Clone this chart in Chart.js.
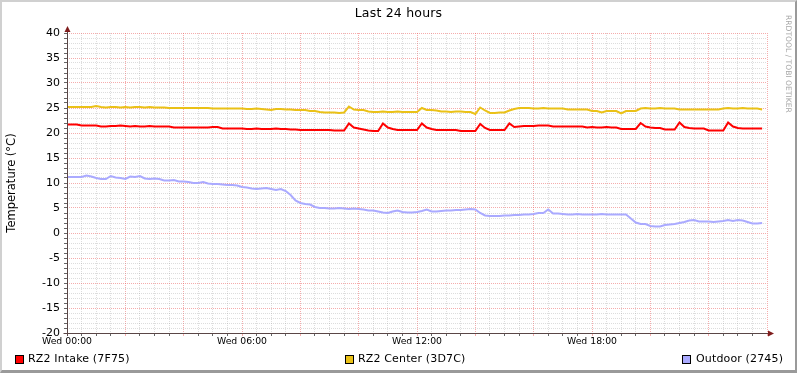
<!DOCTYPE html>
<html>
<head>
<meta charset="utf-8">
<script src="https://cdn.jsdelivr.net/npm/chart.js@4.4.0/dist/chart.umd.js"></script>
<style>
  body { margin: 0; background: #fff; font-family: 'DejaVu Sans', sans-serif; }
  #wrap { position: relative; width: 797px; height: 373px; overflow: hidden; background: #fff; }
  #chart { position: absolute; left: 0; top: 0; }
  .frame { position: absolute; left: 0; top: 0; width: 797px; height: 373px; box-sizing: border-box;
    border-left: 2px solid #d0d0d0; border-top: 2px solid #d0d0d0;
    border-right: 2px solid #9a9a9a; border-bottom: 3px solid #9a9a9a; pointer-events: none; }
  .title { position: absolute; left: 0; top: 5px; width: 797px; text-align: center; font-size: 12.5px; line-height: 16px; color: #000; letter-spacing: 0.2px; }
  .mark { position: absolute; left: 784px; top: 15px; writing-mode: vertical-rl; font-size: 7.6px; color: #a8a8a8; }
  .lg-box { position: absolute; top: 355px; width: 9px; height: 9px; box-sizing: border-box; border: 1px solid #000; }
  .lg-text { position: absolute; top: 352px; font-size: 11px; line-height: 14px; color: #000; white-space: nowrap; letter-spacing: 0.15px; }
</style>
</head>
<body>
<div id="wrap">
  <canvas id="chart" width="797" height="373"></canvas>
  <div class="title">Last 24 hours</div>
  <div class="mark">RRDTOOL / TOBI OETIKER</div>
  <div class="lg-box" style="left:15px;background:#ff0000"></div>
  <div class="lg-text" style="left:28px">RZ2 Intake (7F75)</div>
  <div class="lg-box" style="left:345px;background:#eac117"></div>
  <div class="lg-text" style="left:358px">RZ2 Center (3D7C)</div>
  <div class="lg-box" style="left:682px;background:#aaaaff"></div>
  <div class="lg-text" style="left:696px">Outdoor (2745)</div>
  <div class="frame"></div>
</div>
<script>
// samples every 10 minutes, starting Wed 00:00
const STEP_MINUTES = 10

const intake = [
  21.7, 21.7, 21.7, 21.5, 21.5, 21.5, 21.5, 21.3, 21.3, 21.4, 21.4, 21.5, 21.4,
  21.3, 21.4, 21.3, 21.3, 21.4, 21.3, 21.3, 21.3, 21.3,
  21.1, 21.1, 21.1, 21.1, 21.1, 21.1, 21.1, 21.1, 21.2, 21.2,
  20.9, 20.9, 20.9, 20.9, 20.9,
  20.8, 20.8, 20.9, 20.8, 20.8, 20.8, 20.9, 20.8, 20.8, 20.7, 20.7,
  20.6, 20.6, 20.6, 20.6, 20.6, 20.6, 20.6, 20.5, 20.5, 20.5,
  21.9, 21.1, 20.9, 20.7, 20.5, 20.4, 20.4,
  21.9, 21.1, 20.8, 20.6, 20.6, 20.6, 20.6, 20.6,
  21.9, 21.1, 20.8, 20.6, 20.6, 20.6, 20.6, 20.6, 20.4, 20.4, 20.4, 20.4,
  21.8, 21.0, 20.6, 20.6, 20.6, 20.6,
  21.9, 21.2, 21.3, 21.4, 21.4, 21.4, 21.5, 21.5, 21.5,
  21.3, 21.3, 21.3, 21.3, 21.3, 21.3, 21.3,
  21.1, 21.2, 21.1, 21.1, 21.2, 21.1, 21.1,
  20.8, 20.8, 20.8, 20.8,
  22.0, 21.3, 21.1, 21.0, 21.0, 20.7, 20.7, 20.7,
  22.1, 21.2, 21.0, 20.9, 20.9, 20.9, 20.5, 20.5, 20.5, 20.5,
  22.1, 21.3, 21.0, 20.9, 20.9, 20.9, 20.9, 20.9
]

const center = [
  25.2, 25.2, 25.2, 25.2, 25.2, 25.2, 25.4,
  25.2, 25.1, 25.2, 25.2, 25.1, 25.2, 25.1, 25.2, 25.2, 25.1, 25.2, 25.1, 25.1, 25.1,
  25.0, 25.0, 25.0, 25.0, 25.0, 25.0, 25.0, 25.0, 25.0,
  24.9, 24.9, 24.9, 24.9, 24.9, 24.9, 24.9,
  24.8, 24.8, 24.9, 24.8, 24.7, 24.6, 24.8, 24.8, 24.7, 24.7, 24.6,
  24.6, 24.6, 24.4, 24.4, 24.2, 24.1, 24.1, 24.1, 24.0, 24.1,
  25.3, 24.7, 24.6, 24.6,
  24.3, 24.2, 24.2, 24.3, 24.2, 24.2, 24.3, 24.2, 24.2, 24.2, 24.2,
  25.0, 24.6, 24.6, 24.5,
  24.3, 24.3, 24.2, 24.3, 24.3, 24.2, 24.2,
  23.8, 25.1, 24.5, 24.0, 24.0, 24.1, 24.1, 24.5, 24.8, 25.0, 25.0, 25.0,
  24.9, 24.9, 25.0, 24.9, 24.9, 24.9, 24.9,
  24.7, 24.7, 24.7, 24.7, 24.7,
  24.4, 24.4, 24.1, 24.4, 24.4, 24.4, 23.9, 24.4, 24.4, 24.4,
  24.9, 25.0, 24.9, 24.9, 25.0, 24.9, 24.9, 24.9,
  24.7, 24.7, 24.7, 24.7, 24.7, 24.7, 24.7, 24.7, 24.7,
  24.9, 25.0, 24.9, 24.9, 25.0, 24.9, 24.9, 24.9, 24.7
]

const outdoor = [
  11.2, 11.2, 11.2, 11.2, 11.5, 11.3, 11.0, 10.8, 10.8, 11.4, 11.1, 11.0, 10.8,
  11.3, 11.2, 11.4, 10.9, 10.8, 10.9, 10.8, 10.5, 10.5, 10.6, 10.3, 10.3, 10.2,
  10.0, 10.0, 10.2, 9.9, 9.8, 9.8, 9.7, 9.6, 9.6, 9.5, 9.2, 9.1, 8.9, 8.8, 8.9,
  9.0, 8.8, 8.6, 8.8, 8.4, 7.6, 6.5, 6.0, 5.8, 5.7, 5.2, 5.0, 5.0, 4.9, 4.9,
  5.0, 4.9, 4.8, 4.9, 4.8, 4.7, 4.5, 4.5, 4.3, 4.1, 4.0, 4.3, 4.5, 4.2, 4.1,
  4.1, 4.2, 4.4, 4.7, 4.3, 4.3, 4.4, 4.5, 4.5, 4.6, 4.6, 4.7, 4.8, 4.7, 4.0,
  3.5, 3.4, 3.4, 3.4, 3.5, 3.5, 3.6, 3.6, 3.7, 3.7, 3.8, 4.0, 4.0, 4.7, 3.9,
  3.9, 3.8, 3.7, 3.7, 3.8, 3.7, 3.7, 3.7, 3.7, 3.8, 3.7, 3.7, 3.7, 3.7, 3.7,
  2.9, 2.1, 1.8, 1.8, 1.4, 1.3, 1.3, 1.6, 1.7, 1.8, 2.0, 2.2, 2.5, 2.6, 2.3,
  2.3, 2.3, 2.2, 2.3, 2.4, 2.6, 2.4, 2.6, 2.5, 2.2, 1.9, 1.9, 2.0
]

const seriesNames = ['RZ2 Intake (7F75)', 'RZ2 Center (3D7C)', 'Outdoor (2745)']
const seriesColors = ['#ff0000', '#eac117', '#aaaaff']

const xTickHours = [0, 6, 12, 18]
const xTickLabels = ['Wed 00:00', 'Wed 06:00', 'Wed 12:00', 'Wed 18:00']

const toPoints = values => values.map((v, i) => ({ x: i * STEP_MINUTES / 60, y: v }))

const MAJOR = 'rgba(235, 90, 90, 0.5)'
const MINOR = 'rgba(150, 150, 150, 0.32)'

// axes with arrows, drawn like rrdtool does
const axisArrows = {
  id: 'axisArrows',
  afterDraw(chart) {
    const { ctx, chartArea: a } = chart
    ctx.save()
    ctx.strokeStyle = '#5a4646'
    ctx.lineWidth = 1
    ctx.beginPath()
    ctx.moveTo(a.left - 3.5, a.bottom + 0.5)
    ctx.lineTo(a.right + 4, a.bottom + 0.5)
    ctx.moveTo(a.left + 0.5, a.bottom + 3)
    ctx.lineTo(a.left + 0.5, a.top - 4)
    ctx.stroke()
    ctx.fillStyle = '#7f1d1d'
    ctx.beginPath()
    ctx.moveTo(a.right + 7, a.bottom + 0.5)
    ctx.lineTo(a.right + 1, a.bottom - 2.5)
    ctx.lineTo(a.right + 1, a.bottom + 3.5)
    ctx.closePath()
    ctx.fill()
    ctx.beginPath()
    ctx.moveTo(a.left + 0.5, a.top - 7)
    ctx.lineTo(a.left - 2.5, a.top - 1)
    ctx.lineTo(a.left + 3.5, a.top - 1)
    ctx.closePath()
    ctx.fill()
    ctx.restore()
  }
}

new Chart(document.getElementById('chart'), {
  type: 'line',
  data: {
    datasets: [intake, center, outdoor].map((values, i) => ({
      label: seriesNames[i],
      data: toPoints(values),
      borderColor: seriesColors[i],
      backgroundColor: seriesColors[i],
      borderWidth: 2,
      pointRadius: 0,
      tension: 0,
      fill: false
    }))
  },
  options: {
    responsive: false,
    animation: false,
    devicePixelRatio: 1,
    layout: { padding: { top: 33, right: 30, left: 0, bottom: 0 } },
    plugins: {
      legend: { display: false },
      tooltip: { enabled: false }
    },
    scales: {
      x: {
        type: 'linear',
        min: 0,
        max: 24,
        afterFit: scale => { scale.height = 40 },
        border: { display: false, dash: [1, 1] },
        grid: {
          color: c => (c.tick.value % 2 === 0 ? MAJOR : MINOR),
          tickColor: c => (c.tick.value % 2 === 0 ? MAJOR : '#666'),
          tickLength: 3
        },
        ticks: {
          stepSize: 0.5,
          autoSkip: false,
          maxRotation: 0,
          maxTicksLimit: 100,
          padding: 0,
          color: '#000',
          font: { family: 'DejaVu Sans', size: 9.3 },
          callback: value => {
            const k = xTickHours.indexOf(value)
            return k >= 0 ? xTickLabels[k] : ''
          }
        }
      },
      y: {
        min: -20,
        max: 40,
        afterFit: scale => { scale.width = 67 },
        border: { display: false, dash: [1, 1] },
        grid: {
          color: c => (c.tick.value % 5 === 0 ? MAJOR : MINOR),
          tickColor: '#666',
          tickLength: 3
        },
        title: {
          display: true,
          text: 'Temperature (°C)',
          color: '#000',
          font: { family: 'DejaVu Sans', size: 11.5 },
          padding: { top: 5, bottom: 0 }
        },
        ticks: {
          stepSize: 1,
          autoSkip: false,
          maxTicksLimit: 100,
          padding: 4,
          color: '#000',
          font: { family: 'DejaVu Sans', size: 11 },
          callback: value => (value % 5 === 0 ? String(value) : '')
        }
      }
    }
  },
  plugins: [axisArrows]
})
</script>
</body>
</html>
